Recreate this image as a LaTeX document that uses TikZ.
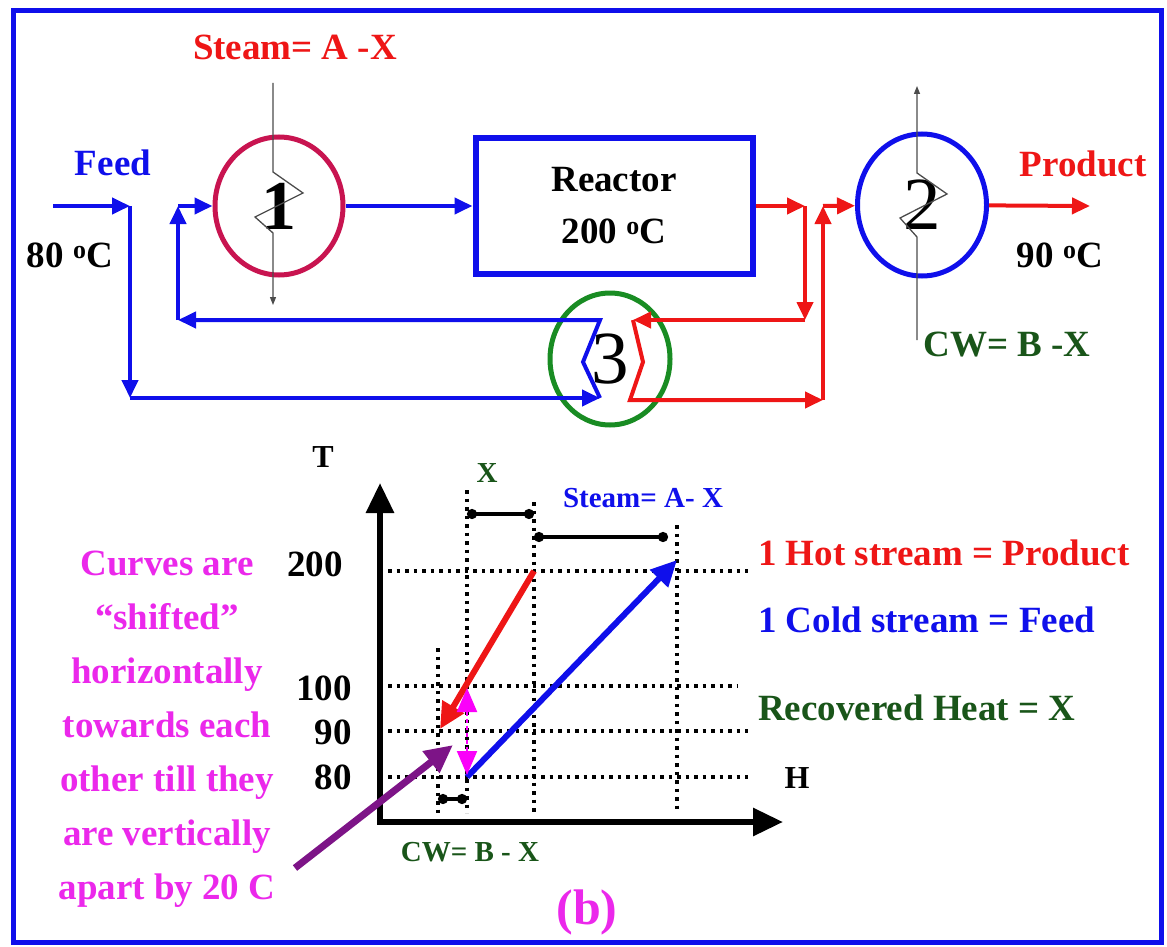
\documentclass[tikz,border=0pt]{standalone}
\usepackage{fontspec}
\setmainfont{Liberation Serif}
\usetikzlibrary{arrows.meta,shapes.geometric}

\definecolor{flowblue}{RGB}{15,15,235}
\definecolor{hotred}{RGB}{238,22,22}
\definecolor{hxone}{RGB}{200,20,80}
\definecolor{hxthree}{RGB}{25,140,35}
\definecolor{cwgreen}{RGB}{25,85,25}
\definecolor{notepink}{RGB}{235,40,235}
\definecolor{gapmagenta}{RGB}{250,0,250}
\definecolor{leadpurple}{RGB}{125,20,135}

\tikzset{
  lbl/.style={inner sep=0pt, font=\fontsize{37}{52}\selectfont\bfseries},
  small lbl/.style={inner sep=0pt, font=\fontsize{29}{34}\selectfont\bfseries},
  exch/.style={ellipse, draw, line width=5pt, inner sep=0pt, font=\fontsize{75}{75}\selectfont},
  flow/.style={line width=4pt, -{Triangle[length=18pt,width=16pt]}},
  cold/.style={flow, flowblue},
  hot/.style={flow, hotred},
  utility/.style={gray!60!black, line width=1.3pt, -{Triangle[length=8pt,width=6pt]}},
  dotline/.style={line width=4pt, dash pattern=on 3.5pt off 5pt},
  span/.style={line width=4pt, {Circle[length=10pt]}-{Circle[length=10pt]}},
  curve/.style={line width=6pt, -{Triangle[length=26pt,width=24pt]}},
  axis/.style={line width=6pt, {Triangle[length=30pt,width=27pt]}-{Triangle[length=30pt,width=27pt]}},
  gap/.style={gapmagenta, line width=2pt, dash pattern=on 4pt off 3pt, {Triangle[length=24pt,width=20pt,fill=gapmagenta]}-{Triangle[length=24pt,width=20pt,fill=gapmagenta]}}
}

\begin{document}
\begin{tikzpicture}[x=1pt,y=-1pt]
    \useasboundingbox (0,0) rectangle (1167,947);
    \draw[flowblue, line width=5pt] (13,11) rectangle (1161,942);

    \node[exch, draw=hxone, minimum width=128pt, minimum height=138pt, font=\fontsize{70}{70}\selectfont\bfseries] (hx1) at (279,206) {1};
    \node[exch, draw=flowblue, minimum width=129pt, minimum height=142pt] (hx2) at (922,205) {2};
    \node[exch, draw=hxthree, minimum width=120pt, minimum height=132pt] (hx3) at (610,359) {3};
    \node[lbl, draw=flowblue, line width=6pt, minimum width=277pt, minimum height=135pt, align=center] (reactor) at (614,206) {Reactor\\200 \textsuperscript{o}C};

    \node[lbl, hotred] (steamlbl) at (295,47) {Steam= A -X};
    \node[lbl, flowblue] (feedlbl) at (113,163) {Feed};
    \node[lbl] (feedtemp) at (70,255) {80 \textsuperscript{o}C};
    \node[lbl, hotred] (prodlbl) at (1083,164) {Product};
    \node[lbl] (prodtemp) at (1060,255) {90 \textsuperscript{o}C};
    \node[lbl, cwgreen] (cwlbl) at (1007,345) {CW= B -X};

    \coordinate (feedin) at (53,206);
    \coordinate (feedsplit) at (130,206);
    \coordinate (feedlow) at (130,398);
    \coordinate (coldin) at (600,398);
    \coordinate (coldmid) at (583,362);
    \coordinate (coldout) at (600,320);
    \coordinate (recyc) at (178,320);
    \coordinate (recycup) at (178,206);

    \draw[cold] (feedin) -- (feedsplit);
    \draw[cold] (feedsplit) -- (feedlow);
    \draw[cold] (feedlow) -- (coldin);
    \draw[cold] (coldin) -- (coldmid) -- (coldout) -- (recyc);
    \draw[cold] (recyc) -- (recycup);
    \draw[cold] (recycup) -- (hx1);
    \draw[cold] (hx1) -- (reactor);

    \coordinate (hotsplit) at (805,206);
    \coordinate (hotdown) at (805,320);
    \coordinate (hotin) at (633,320);
    \coordinate (hotmid) at (643,362);
    \coordinate (hotout) at (630,400);
    \coordinate (hotjoin) at (823,400);
    \coordinate (hotup) at (823,206);
    \coordinate (prodout) at (1090,206);

    \draw[hot] (reactor) -- (hotsplit);
    \draw[hot] (hotsplit) -- (hotdown);
    \draw[hot] (hotdown) -- (hotin);
    \draw[hot] (hotin) -- (hotmid) -- (hotout) -- (hotjoin);
    \draw[hot] (hotjoin) -- (hotup);
    \draw[hot] (hotup) -- (hx2);
    \draw[hot] (hx2) -- (prodout);

    \coordinate (steamtop) at (273,83);
    \coordinate (steambot) at (273,305);
    \draw[utility] (steamtop) -- (273,172) -- (303,193) -- (255,217) -- (273,233) -- (steambot);
    \coordinate (cwbot) at (917,340);
    \coordinate (cwtop) at (917,86);
    \draw[utility] (cwbot) -- (917,237) -- (900,218) -- (947,194) -- (917,173) -- (cwtop);

    \foreach \y/\xend in {571/748,686/738,731/748,777/748}
        \draw[dotline] (388,\y) -- (\xend,\y);
    \foreach \x/\ystart in {438/648,467/490,534/502,677/525}
        \draw[dotline] (\x,\ystart) -- (\x,813);

    \coordinate (origin) at (380,822);
    \coordinate (Ttip) at (380,483);
    \coordinate (Htip) at (783,822);
    \draw[axis] (Ttip) -- (origin) -- (Htip);
    \node[lbl, font=\fontsize{32}{32}\selectfont\bfseries] (Tlbl) at (323,457) {T};
    \node[lbl, font=\fontsize{32}{32}\selectfont\bfseries] (Hlbl) at (797,778) {H};

    \node[lbl, anchor=east] (t200) at (343,564) {200};
    \node[lbl, anchor=east] (t100) at (352,688) {100};
    \node[lbl, anchor=east] (t90) at (352,732) {90};
    \node[lbl, anchor=east] (t80) at (352,777) {80};

    \draw[span] (467,514) -- (534,514);
    \draw[span] (534,537) -- (668,537);
    \draw[span] (438,799) -- (467,799);
    \node[small lbl, cwgreen] (xlbl) at (487,473) {X};
    \node[small lbl, flowblue] (steamspan) at (643,498) {Steam= A- X};
    \node[small lbl, cwgreen] (cwspan) at (470,852) {CW= B - X};
    \node[lbl, notepink, font=\fontsize{50}{50}\selectfont\bfseries] (caption) at (587,912) {(b)};

    \coordinate (hotstart) at (534,571);
    \coordinate (hotend) at (440,729);
    \coordinate (coldstart) at (467,777);
    \coordinate (coldend) at (677,560);
    \draw[curve, hotred] (hotstart) -- (hotend);
    \draw[curve, flowblue] (coldstart) -- (coldend);
    \coordinate (gaptop) at (467,688);
    \coordinate (gapbot) at (467,775);
    \draw[gap] (gaptop) -- (gapbot);

    \node[lbl, hotred, anchor=west] (hotleg) at (758,553) {1 Hot stream = Product};
    \node[lbl, flowblue, anchor=west] (coldleg) at (758,620) {1 Cold stream = Feed};
    \node[lbl, cwgreen, anchor=west] (recleg) at (758,708) {Recovered Heat = X};

    \node[lbl, notepink, align=center, anchor=north, font=\fontsize{37}{54}\selectfont\bfseries] (note) at (167,551) {Curves are\\“shifted”\\horizontally\\towards each\\other till they\\are vertically\\apart by 20 C};

    \coordinate (leadstart) at (295,868);
    \coordinate (leadend) at (453,745);
    \draw[leadpurple, line width=7pt, -{Triangle[length=28pt,width=26pt]}] (leadstart) -- (leadend);
\end{tikzpicture}
\end{document}
